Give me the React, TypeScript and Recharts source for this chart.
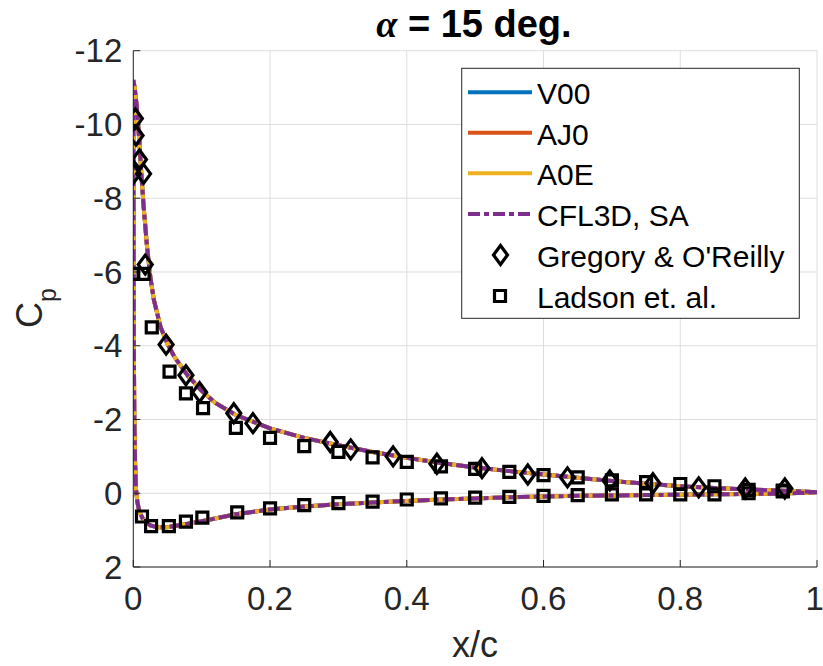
import React from 'react';
import { ComposedChart, Line, Scatter, XAxis, YAxis, CartesianGrid } from 'recharts';

// Axis ticks
const xTicks = [0, 0.2, 0.4, 0.6, 0.8, 1];
const yTicks = [-12, -10, -8, -6, -4, -2, 0, 2];

// Computed surface Cp (curves overlap for all codes): upper surface TE -> LE, then lower surface LE -> TE
const upperX = [1, 0.95, 0.9, 0.85, 0.8, 0.75, 0.7, 0.65, 0.6, 0.55, 0.5, 0.45, 0.4, 0.35, 0.3, 0.25, 0.2, 0.15, 0.12, 0.1, 0.08, 0.06, 0.05, 0.04, 0.03, 0.025, 0.02, 0.015, 0.012, 0.009, 0.005, 0.002, 0];
const upperCp = [-0.03, -0.07, -0.1, -0.14, -0.19, -0.26, -0.33, -0.42, -0.51, -0.6, -0.7, -0.82, -0.96, -1.12, -1.3, -1.5, -1.76, -2.12, -2.45, -2.78, -3.18, -3.7, -4.05, -4.5, -5.25, -5.85, -6.7, -7.8, -8.6, -9.5, -10.5, -11.0, -11.2];
const lowerX = [0.0004, 0.0008, 0.0015, 0.0025, 0.004, 0.006, 0.009, 0.013, 0.018, 0.025, 0.035, 0.05, 0.07, 0.1, 0.15, 0.2, 0.25, 0.3, 0.35, 0.4, 0.45, 0.5, 0.55, 0.6, 0.65, 0.7, 0.75, 0.8, 0.85, 0.9, 0.95, 1];
const lowerCp = [-7, -4, -2, -0.9, -0.1, 0.25, 0.5, 0.66, 0.78, 0.87, 0.92, 0.92, 0.86, 0.76, 0.57, 0.44, 0.36, 0.3, 0.25, 0.21, 0.17, 0.14, 0.11, 0.09, 0.07, 0.06, 0.05, 0.04, 0.03, 0.02, 0.01, -0.03];

// Experimental data
const gregoryX = [0.003, 0.004, 0.009, 0.0, 0.015, 0.0175, 0.048, 0.077, 0.097, 0.147, 0.175, 0.288, 0.318, 0.38, 0.444, 0.51, 0.577, 0.635, 0.697, 0.76, 0.827, 0.895, 0.953];
const gregoryCp = [-10.16, -9.7, -9.05, -8.66, -8.66, -6.2, -4.03, -3.2, -2.74, -2.17, -1.9, -1.39, -1.19, -1.0, -0.8, -0.68, -0.51, -0.43, -0.35, -0.27, -0.16, -0.13, -0.13];
const ladsonX = [0, 0.015, 0.027, 0.053, 0.077, 0.102, 0.15, 0.2, 0.25, 0.3, 0.35, 0.4, 0.45, 0.5, 0.55, 0.6, 0.65, 0.7, 0.75, 0.8, 0.85, 0.9, 0.95,
  0.0127, 0.026, 0.052, 0.077, 0.101, 0.152, 0.2, 0.25, 0.3, 0.35, 0.4, 0.45, 0.5, 0.55, 0.6, 0.65, 0.7, 0.75, 0.8, 0.85, 0.9, 0.95];
const ladsonCp = [-5.95, -5.95, -4.5, -3.3, -2.71, -2.31, -1.77, -1.5, -1.28, -1.12, -0.97, -0.85, -0.73, -0.66, -0.58, -0.49, -0.43, -0.35, -0.3, -0.25, -0.19, -0.09, -0.07,
  0.63, 0.89, 0.89, 0.77, 0.66, 0.52, 0.41, 0.32, 0.27, 0.23, 0.17, 0.14, 0.12, 0.1, 0.07, 0.05, 0.03, 0.03, 0.03, 0.03, 0.0, -0.05];

const seriesNames = ['V00', 'AJ0', 'A0E', 'CFL3D, SA'];
const seriesColors = ['#0072BD', '#D95319', '#EDB120', '#7E2F8E'];
const expNames = ["Gregory & O'Reilly", 'Ladson et. al.'];

const cfdData = [
  ...upperX.map((x, i) => ({ x, cp: upperCp[i] })),
  ...lowerX.map((x, i) => ({ x, cp: lowerCp[i] })),
];
const gregoryData = gregoryX.map((x, i) => ({ x, cp: gregoryCp[i] }));
const ladsonData = ladsonX.map((x, i) => ({ x, cp: ladsonCp[i] }));

const FONT = '"Liberation Sans", Arial, Helvetica, sans-serif';
const AXIS_COLOR = '#262626';
const DASH = '12 4 5 4';
const LW = 4;

const diamondPath = (cx: number, cy: number) =>
  `M${cx},${cy - 9.5}L${cx + 7},${cy}L${cx},${cy + 9.5}L${cx - 7},${cy}Z`;
const squarePath = (cx: number, cy: number) =>
  `M${cx - 5.5},${cy - 5.5}L${cx + 5.5},${cy - 5.5}L${cx + 5.5},${cy + 5.5}L${cx - 5.5},${cy + 5.5}Z`;

const DiamondShape = (p: any) => (
  <path d={diamondPath(p.cx, p.cy)} fill="none" stroke="#000" strokeWidth={3.2} strokeLinejoin="miter" />
);
const SquareShape = (p: any) => (
  <path d={squarePath(p.cx, p.cy)} fill="none" stroke="#000" strokeWidth={3.2} strokeLinejoin="miter" />
);

export default function App() {
  const legendTop = 68.3;
  const rowY = [92.3, 132.7, 173.3, 214, 255, 296];
  return (
    <div style={{ position: 'absolute', left: 0, top: 0, width: 823, height: 666, background: '#fff' }}>
      <ComposedChart width={823} height={666} margin={{ top: 50.7, right: 6, bottom: 49, left: 0 }}>
        <CartesianGrid stroke="#dedede" strokeWidth={1} />
        <XAxis
          dataKey="x"
          type="number"
          domain={[0, 1]}
          ticks={xTicks}
          allowDataOverflow
          height={50}
          tickSize={-7}
          tickMargin={26.6}
          axisLine={{ stroke: AXIS_COLOR }}
          tickLine={{ stroke: AXIS_COLOR }}
          tick={{ fontSize: 33, fill: AXIS_COLOR, fontFamily: FONT }}
          tickFormatter={(v: number) => String(v)}
        />
        <XAxis
          xAxisId="top"
          orientation="top"
          type="number"
          domain={[0, 1]}
          ticks={xTicks}
          allowDataOverflow
          height={0}
          tickSize={-7}
          axisLine={{ stroke: AXIS_COLOR }}
          tickLine={{ stroke: AXIS_COLOR }}
          tick={false}
        />
        <YAxis
          dataKey="cp"
          type="number"
          domain={[-12, 2]}
          reversed
          ticks={yTicks}
          allowDataOverflow
          width={133.3}
          tickSize={-7}
          tickMargin={18}
          axisLine={{ stroke: AXIS_COLOR }}
          tickLine={{ stroke: AXIS_COLOR }}
          tick={{ fontSize: 33, fill: AXIS_COLOR, fontFamily: FONT }}
        />
        <YAxis
          yAxisId="right"
          orientation="right"
          type="number"
          domain={[-12, 2]}
          reversed
          ticks={yTicks}
          allowDataOverflow
          width={0}
          tickSize={-7}
          axisLine={{ stroke: AXIS_COLOR }}
          tickLine={{ stroke: AXIS_COLOR }}
          tick={false}
        />
        {seriesNames.map((name, i) => (
          <Line
            key={name}
            name={name}
            data={cfdData}
            dataKey="cp"
            type="linear"
            stroke={seriesColors[i]}
            strokeWidth={LW}
            strokeDasharray={i === 3 ? DASH : undefined}
            dot={false}
            activeDot={false}
            isAnimationActive={false}
          />
        ))}
        <Scatter name={expNames[0]} data={gregoryData} dataKey="cp" shape={DiamondShape} isAnimationActive={false} />
        <Scatter name={expNames[1]} data={ladsonData} dataKey="cp" shape={SquareShape} isAnimationActive={false} />
      </ComposedChart>
      <svg width={823} height={666} style={{ position: 'absolute', left: 0, top: 0, pointerEvents: 'none' }}>
        <text x={474} y={37} textAnchor="middle" fontFamily={FONT} fontSize={38} fontWeight="bold" fill="#000">
          <tspan fontFamily='"Liberation Serif", "DejaVu Serif", serif' fontStyle="italic">α</tspan>
          <tspan> = 15 deg.</tspan>
        </text>
        <text x={475} y={657} textAnchor="middle" fontFamily={FONT} fontSize={36} fill={AXIS_COLOR}>x/c</text>
        <text transform="translate(42,308) rotate(-90)" textAnchor="middle" fontFamily={FONT} fontSize={36} fill={AXIS_COLOR}>
          <tspan>C</tspan>
          <tspan fontSize={25} dy={14}>p</tspan>
        </text>
        <rect x={461.7} y={legendTop} width={337.6} height={250} fill="#fff" stroke={AXIS_COLOR} strokeWidth={1} />
        {seriesNames.map((name, i) => (
          <g key={name}>
            <line x1={468} x2={532} y1={rowY[i]} y2={rowY[i]} stroke={seriesColors[i]} strokeWidth={LW}
              strokeDasharray={i === 3 ? DASH : undefined} />
            <text x={537} y={rowY[i] + 12} fontFamily={FONT} fontSize={30} fill="#000">{name}</text>
          </g>
        ))}
        <path d={diamondPath(500.5, rowY[4])} fill="none" stroke="#000" strokeWidth={3.2} />
        <text x={537} y={rowY[4] + 12} fontFamily={FONT} fontSize={30} fill="#000">{expNames[0]}</text>
        <path d={squarePath(500, rowY[5])} fill="none" stroke="#000" strokeWidth={3.2} />
        <text x={537} y={rowY[5] + 12} fontFamily={FONT} fontSize={30} fill="#000">{expNames[1]}</text>
      </svg>
    </div>
  );
}
